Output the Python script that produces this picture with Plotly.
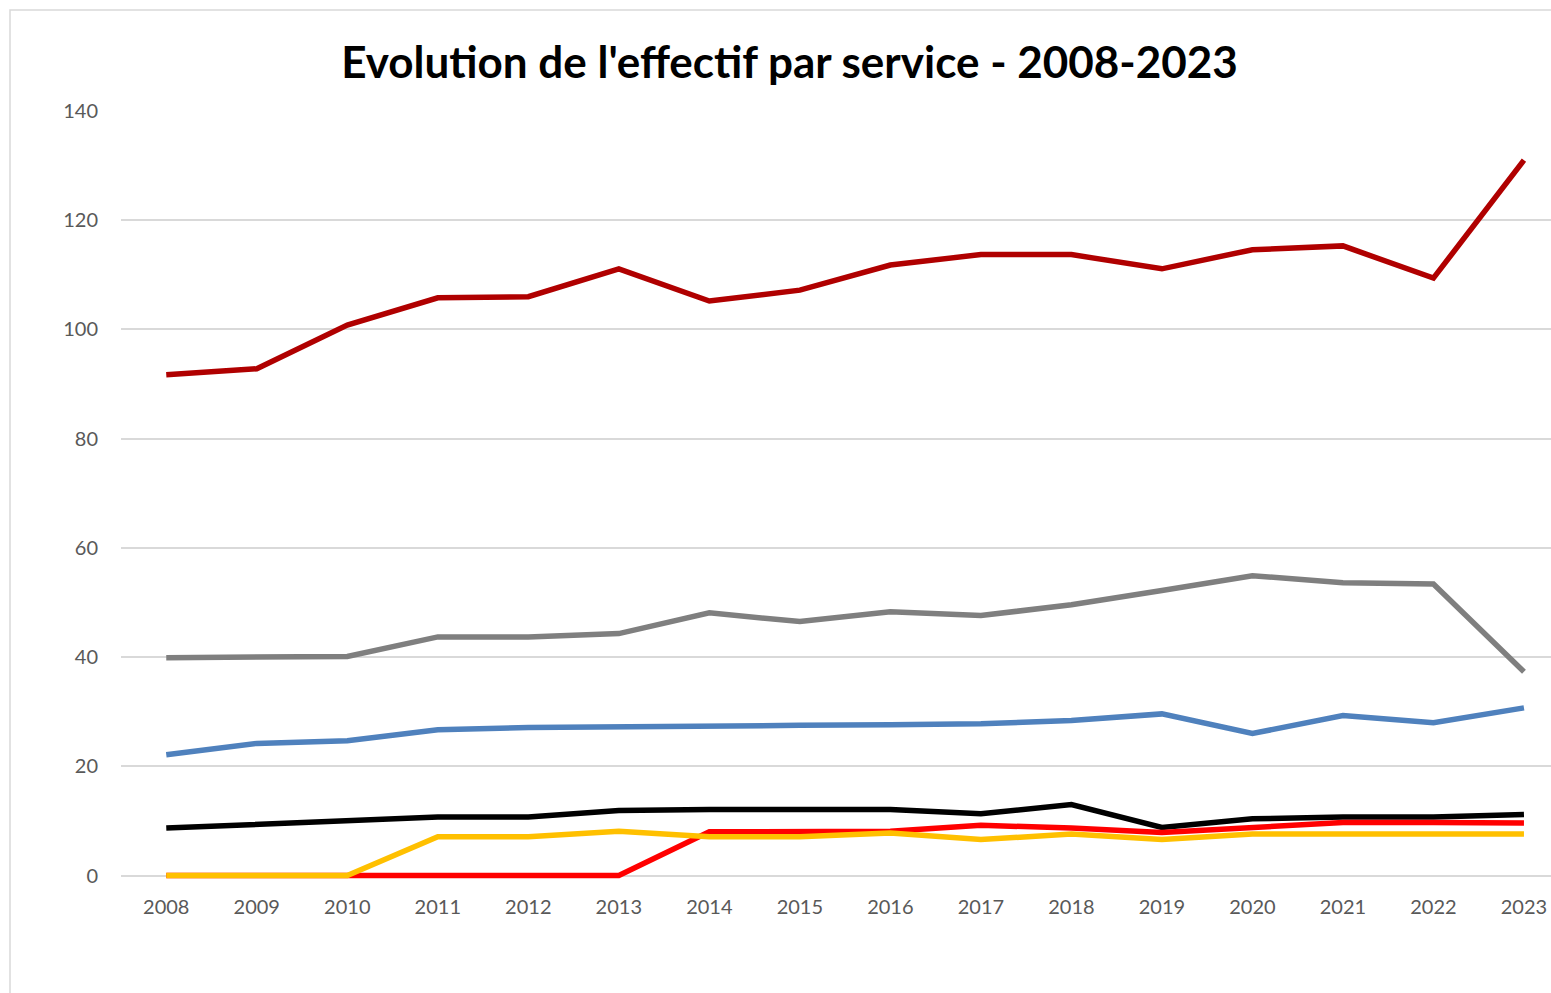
import plotly.graph_objects as go

years = [2008, 2009, 2010, 2011, 2012, 2013, 2014, 2015, 2016, 2017, 2018, 2019, 2020, 2021, 2022, 2023]

serie_rouge_fonce = [91.7, 92.8, 100.8, 105.8, 106.0, 111.1, 105.2, 107.2, 111.8, 113.7, 113.7, 111.1, 114.6, 115.3, 109.4, 131.0]
serie_gris = [39.9, 39.9, 40.1, 43.7, 43.7, 44.3, 48.1, 46.5, 48.3, 47.6, 49.6, 52.2, 54.9, 53.6, 53.4, 37.3]
serie_bleu = [22.1, 24.2, 24.7, 26.7, 27.1, 27.3, 27.3, 27.5, 27.6, 27.8, 28.4, 29.6, 26.0, 29.3, 28.0, 30.7]
serie_noir = [8.7, 9.3, 9.9, 10.7, 10.7, 11.9, 12.1, 12.1, 12.1, 11.3, 13.0, 8.8, 10.4, 10.7, 10.7, 11.2]
serie_rouge = [0, 0, 0, 0, 0, 0, 8.0, 8.0, 8.1, 9.2, 8.7, 7.9, 8.8, 9.7, 9.7, 9.6]
serie_jaune = [0, 0, 0, 7.1, 7.1, 8.1, 7.1, 7.1, 7.8, 6.6, 7.6, 6.6, 7.6, 7.6, 7.6, 7.6]

series = [
    ("Service 1", serie_rouge_fonce, "#B00000"),
    ("Service 2", serie_gris, "#7F7F7F"),
    ("Service 3", serie_bleu, "#4F81BD"),
    ("Service 4", serie_noir, "#000000"),
    ("Service 5", serie_rouge, "#FF0000"),
    ("Service 6", serie_jaune, "#FFC000"),
]

fig = go.Figure()
for name, vals, col in series:
    fig.add_trace(go.Scatter(x=years, y=vals, mode="lines", name=name,
                             line=dict(color=col, width=5.5)))

W, H = 1551, 993
ml, mr, mt, mb = 121, 0, 111, 111.5
pw = W - ml - mr
ph = H - mt - mb

fig.update_layout(
    width=W, height=H,
    margin=dict(l=ml, r=mr, t=mt, b=mb, pad=0),
    paper_bgcolor="white", plot_bgcolor="white",
    showlegend=False,
    font=dict(family="Lato, Calibri, sans-serif", color="#595959", size=20),
    title=dict(text="<b>Evolution de l'effectif par service - 2008-2023</b>",
               x=(789.5 - ml) / pw, xref="paper", xanchor="center",
               y=1 - 63 / H, yref="container", yanchor="middle",
               font=dict(family="Lato, Calibri, sans-serif", size=44, color="#000000")),
    xaxis=dict(range=[2007.5, 2008 + (W - 166) / 90.53], tickmode="array",
               tickvals=years, ticktext=[str(y) for y in years],
               showgrid=False, zeroline=False, showline=False, ticks="",
               ticklabelstandoff=12, tickfont=dict(size=20, color="#595959")),
    yaxis=dict(range=[-1, 140], tickvals=[0, 20, 40, 60, 80, 100, 120, 140],
               showgrid=True, gridcolor="#D9D9D9", gridwidth=1.5,
               zeroline=False, showline=False, ticks="",
               ticklabelstandoff=22, tickfont=dict(size=20, color="#595959")),
    shapes=[dict(type="rect", xref="paper", yref="paper",
                 x0=(10 - ml) / pw, x1=1.2, y0=-0.3, y1=(H - mb - 10) / ph,
                 line=dict(color="#D9D9D9", width=1.5), fillcolor="rgba(0,0,0,0)",
                 layer="below")],
)

fig.write_html(
    "out.html",
    config={"displayModeBar": False},
    post_script="document.body.style.margin='0';document.body.style.overflow='hidden';",
)
